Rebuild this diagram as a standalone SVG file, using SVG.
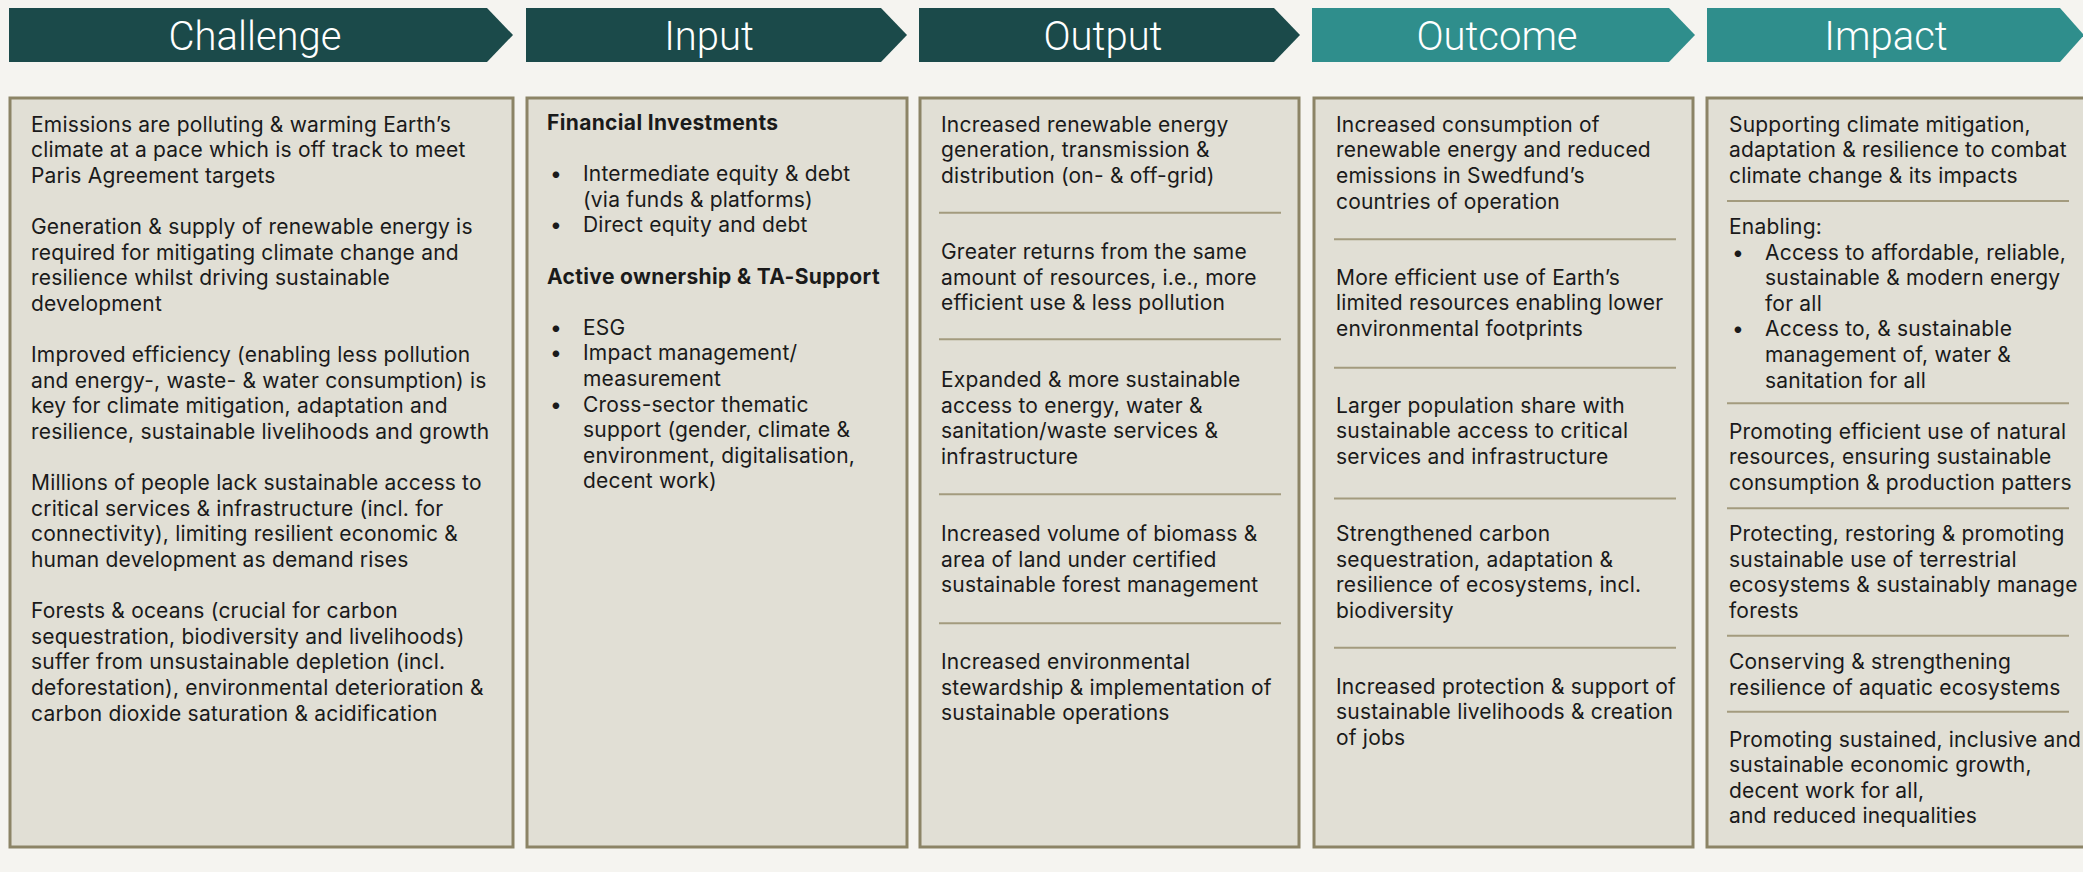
<svg xmlns="http://www.w3.org/2000/svg" width="2083" height="872" viewBox="0 0 2083 872">
<style>
.hdr-dark{fill:#1b4a4a}
.hdr-teal{fill:#2f8e8c}
.htxt{font-family:Roboto,"Liberation Sans",sans-serif;font-weight:300;font-size:40px;fill:#ffffff;text-anchor:middle}
.box{fill:#e1dfd5;stroke:#8c8466;stroke-width:3}
.div{stroke:#a39b7e;stroke-width:2}
.t{font-family:Inter,"Liberation Sans",sans-serif;font-size:21px;letter-spacing:0.2px;fill:#1a1a1a}
.b{font-weight:700;letter-spacing:0.35px}
</style>
<rect x="0" y="0" width="2083" height="872" fill="#f5f4f0"/>

<g id="challenge">
<polygon class="hdr-dark" points="9,8 487,8 513,35 487,62 9,62"/>
<text class="htxt" x="255" y="50">Challenge</text>
<rect class="box" x="10" y="98" width="503" height="749"/>
<text class="t">
<tspan x="31" y="131.7">Emissions are polluting &amp; warming Earth’s</tspan>
<tspan x="31" y="157.3">climate at a pace which is off track to meet</tspan>
<tspan x="31" y="182.9">Paris Agreement targets</tspan>
<tspan x="31" y="234.1">Generation &amp; supply of renewable energy is</tspan>
<tspan x="31" y="259.7">required for mitigating climate change and</tspan>
<tspan x="31" y="285.3">resilience whilst driving sustainable</tspan>
<tspan x="31" y="310.9">development</tspan>
<tspan x="31" y="362.1">Improved efficiency (enabling less pollution</tspan>
<tspan x="31" y="387.7">and energy-, waste- &amp; water consumption) is</tspan>
<tspan x="31" y="413.3">key for climate mitigation, adaptation and</tspan>
<tspan x="31" y="438.9">resilience, sustainable livelihoods and growth</tspan>
<tspan x="31" y="490.1">Millions of people lack sustainable access to</tspan>
<tspan x="31" y="515.7">critical services &amp; infrastructure (incl. for</tspan>
<tspan x="31" y="541.3">connectivity), limiting resilient economic &amp;</tspan>
<tspan x="31" y="566.9">human development as demand rises</tspan>
<tspan x="31" y="618.1">Forests &amp; oceans (crucial for carbon</tspan>
<tspan x="31" y="643.7">sequestration, biodiversity and livelihoods)</tspan>
<tspan x="31" y="669.3">suffer from unsustainable depletion (incl.</tspan>
<tspan x="31" y="694.9">deforestation), environmental deterioration &amp;</tspan>
<tspan x="31" y="720.5">carbon dioxide saturation &amp; acidification</tspan>
</text>
</g>

<g id="input">
<polygon class="hdr-dark" points="526,8 881,8 907,35 881,62 526,62"/>
<text class="htxt" x="709" y="50">Input</text>
<rect class="box" x="527" y="98" width="380" height="749"/>
<text class="t">
<tspan class="b" x="547" y="130">Financial Investments</tspan>
<tspan x="550" y="181.2">•</tspan><tspan x="583" y="181.2">Intermediate equity &amp; debt</tspan>
<tspan x="583" y="206.8">(via funds &amp; platforms)</tspan>
<tspan x="550" y="232.4">•</tspan><tspan x="583" y="232.4">Direct equity and debt</tspan>
<tspan class="b" x="547" y="283.6">Active ownership &amp; TA-Support</tspan>
<tspan x="550" y="334.8">•</tspan><tspan x="583" y="334.8">ESG</tspan>
<tspan x="550" y="360.4">•</tspan><tspan x="583" y="360.4">Impact management/</tspan>
<tspan x="583" y="386">measurement</tspan>
<tspan x="550" y="411.6">•</tspan><tspan x="583" y="411.6">Cross-sector thematic</tspan>
<tspan x="583" y="437.2">support (gender, climate &amp;</tspan>
<tspan x="583" y="462.8">environment, digitalisation,</tspan>
<tspan x="583" y="488.4">decent work)</tspan>
</text>
</g>

<g id="output">
<polygon class="hdr-dark" points="919,8 1274,8 1300,35 1274,62 919,62"/>
<text class="htxt" x="1103" y="50">Output</text>
<rect class="box" x="920" y="98" width="379" height="749"/>
<text class="t">
<tspan x="941" y="131.7">Increased renewable energy</tspan>
<tspan x="941" y="157.3">generation, transmission &amp;</tspan>
<tspan x="941" y="182.9">distribution (on- &amp; off-grid)</tspan>
<tspan x="941" y="259">Greater returns from the same</tspan>
<tspan x="941" y="284.6">amount of resources, i.e., more</tspan>
<tspan x="941" y="310.2">efficient use &amp; less pollution</tspan>
<tspan x="941" y="387">Expanded &amp; more sustainable</tspan>
<tspan x="941" y="412.6">access to energy, water &amp;</tspan>
<tspan x="941" y="438.2">sanitation/waste services &amp;</tspan>
<tspan x="941" y="463.8">infrastructure</tspan>
<tspan x="941" y="541">Increased volume of biomass &amp;</tspan>
<tspan x="941" y="566.6">area of land under certified</tspan>
<tspan x="941" y="592.2">sustainable forest management</tspan>
<tspan x="941" y="669">Increased environmental</tspan>
<tspan x="941" y="694.6">stewardship &amp; implementation of</tspan>
<tspan x="941" y="720.2">sustainable operations</tspan>
</text>
</g>

<g id="outcome">
<polygon class="hdr-teal" points="1312,8 1669,8 1695,35 1669,62 1312,62"/>
<text class="htxt" x="1497" y="50">Outcome</text>
<rect class="box" x="1314" y="98" width="379" height="749"/>
<text class="t">
<tspan x="1336" y="131.7">Increased consumption of</tspan>
<tspan x="1336" y="157.3">renewable energy and reduced</tspan>
<tspan x="1336" y="182.9">emissions in Swedfund’s</tspan>
<tspan x="1336" y="208.5">countries of operation</tspan>
<tspan x="1336" y="284.5">More efficient use of Earth’s</tspan>
<tspan x="1336" y="310.1">limited resources enabling lower</tspan>
<tspan x="1336" y="335.7">environmental footprints</tspan>
<tspan x="1336" y="412.5">Larger population share with</tspan>
<tspan x="1336" y="438.1">sustainable access to critical</tspan>
<tspan x="1336" y="463.7">services and infrastructure</tspan>
<tspan x="1336" y="541">Strengthened carbon</tspan>
<tspan x="1336" y="566.6">sequestration, adaptation &amp;</tspan>
<tspan x="1336" y="592.2">resilience of ecosystems, incl.</tspan>
<tspan x="1336" y="617.8">biodiversity</tspan>
<tspan x="1336" y="693.6">Increased protection &amp; support of</tspan>
<tspan x="1336" y="719.2">sustainable livelihoods &amp; creation</tspan>
<tspan x="1336" y="744.8">of jobs</tspan>
</text>
</g>

<g id="impact">
<polygon class="hdr-teal" points="1707,8 2060,8 2084,35 2060,62 1707,62"/>
<text class="htxt" x="1886" y="50">Impact</text>
<rect class="box" x="1707" y="98" width="380" height="749"/>
<text class="t">
<tspan x="1729" y="131.7">Supporting climate mitigation,</tspan>
<tspan x="1729" y="157.3">adaptation &amp; resilience to combat</tspan>
<tspan x="1729" y="182.9">climate change &amp; its impacts</tspan>
<tspan x="1729" y="234">Enabling:</tspan>
<tspan x="1732" y="259.6">•</tspan><tspan x="1765" y="259.6">Access to affordable, reliable,</tspan>
<tspan x="1765" y="285.2">sustainable &amp; modern energy</tspan>
<tspan x="1765" y="310.8">for all</tspan>
<tspan x="1732" y="336.4">•</tspan><tspan x="1765" y="336.4">Access to, &amp; sustainable</tspan>
<tspan x="1765" y="362">management of, water &amp;</tspan>
<tspan x="1765" y="387.6">sanitation for all</tspan>
<tspan x="1729" y="438.5">Promoting efficient use of natural</tspan>
<tspan x="1729" y="464.1">resources, ensuring sustainable</tspan>
<tspan x="1729" y="489.7">consumption &amp; production patters</tspan>
<tspan x="1729" y="541">Protecting, restoring &amp; promoting</tspan>
<tspan x="1729" y="566.6">sustainable use of terrestrial</tspan>
<tspan x="1729" y="592.2">ecosystems &amp; sustainably manage</tspan>
<tspan x="1729" y="617.8">forests</tspan>
<tspan x="1729" y="669">Conserving &amp; strengthening</tspan>
<tspan x="1729" y="694.6">resilience of aquatic ecosystems</tspan>
<tspan x="1729" y="746.6">Promoting sustained, inclusive and</tspan>
<tspan x="1729" y="772.2">sustainable economic growth,</tspan>
<tspan x="1729" y="797.8">decent work for all,</tspan>
<tspan x="1729" y="823.4">and reduced inequalities</tspan>
</text>
</g>

<g id="connectors">
<line class="div" x1="939" y1="212.7" x2="1281" y2="212.7"/>
<line class="div" x1="939" y1="339.3" x2="1281" y2="339.3"/>
<line class="div" x1="939" y1="494.3" x2="1281" y2="494.3"/>
<line class="div" x1="939" y1="623.3" x2="1281" y2="623.3"/>
<line class="div" x1="1334" y1="239.3" x2="1676" y2="239.3"/>
<line class="div" x1="1334" y1="367.7" x2="1676" y2="367.7"/>
<line class="div" x1="1334" y1="498.5" x2="1676" y2="498.5"/>
<line class="div" x1="1334" y1="647.7" x2="1676" y2="647.7"/>
<line class="div" x1="1727" y1="201" x2="2069" y2="201"/>
<line class="div" x1="1727" y1="403.3" x2="2069" y2="403.3"/>
<line class="div" x1="1727" y1="508.3" x2="2069" y2="508.3"/>
<line class="div" x1="1727" y1="635.7" x2="2069" y2="635.7"/>
<line class="div" x1="1727" y1="711.7" x2="2069" y2="711.7"/>
</g>
</svg>
